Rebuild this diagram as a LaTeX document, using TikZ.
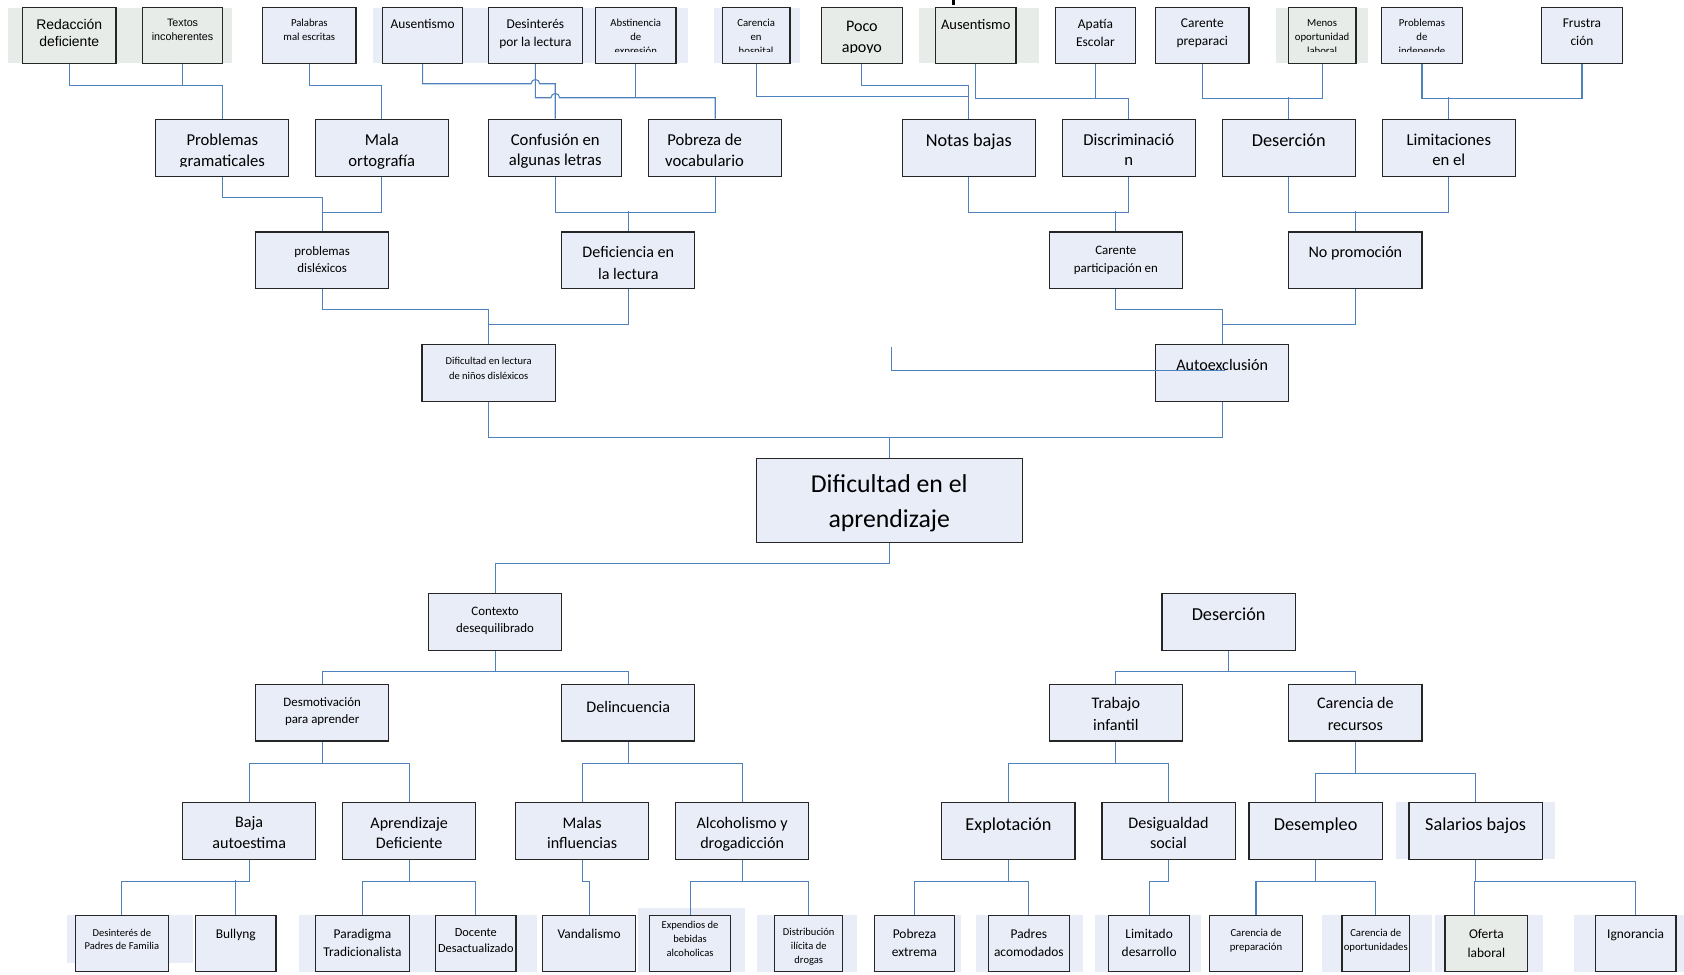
\documentclass[tikz,border=0pt]{standalone}
\usepackage{fontspec}
\setmainfont{Carlito}
\newfontfamily\arial{Liberation Sans}

\definecolor{azulcaja}{RGB}{233,237,247}
\definecolor{grisverde}{RGB}{231,236,233}
\definecolor{linea}{RGB}{79,129,189}
\definecolor{borde}{RGB}{38,38,38}

\def\letra{\fontsize{15}{19.5}\selectfont}
\def\margen{13pt}
\def\corre{0pt}
\def\recorte{2pt}
\def\familia{}
\def\contenido{}

\tikzset{
  letra/.code 2 args={\def\letra{\fontsize{#1}{#2}\selectfont}},
  sangria/.code={\def\margen{#1pt}},
  corrida/.code={\def\corre{#1pt}},
  recorte/.code={\def\recorte{#1pt}},
  arial/.code={\def\familia{\arial}},
  rotulo/.code={\def\contenido{#1}},
  caja/.style={draw=borde, line width=1.1pt, fill=azulcaja, inner sep=0pt,
    minimum width=124pt, minimum height=53pt,
    path picture={
      \clip ([yshift=\recorte]path picture bounding box.south west) rectangle (path picture bounding box.north east);
      \node[draw=none, fill=none, inner sep=0pt, minimum width=0pt, minimum height=0pt,
        align=center, anchor=north, text=black, font=\familia\letra]
        at ([xshift=\corre, yshift=-\margen]path picture bounding box.north) {\contenido};}},
  gris/.style={fill=grisverde},
  ancha/.style={minimum width=87pt, minimum height=52pt},
  chica/.style={minimum width=75pt, minimum height=52pt},
  angosta/.style={minimum width=63pt, minimum height=52pt},
  con/.style={draw=linea, line width=1pt}
}

\begin{document}
\begin{tikzpicture}[x=1pt, y=-1pt]
\useasboundingbox (0,0) rectangle (1568,907);

% fondos
\foreach \xa/\ya/\xb/\yb in {7/7/216/59, 856/7/967/59, 1188/7/1274/59} {\fill[grisverde] (\xa,\ya) rectangle (\xb,\yb);}
\foreach \xa/\ya/\xb/\yb in {347/7/641/59, 665/7/745/59, 1300/747/1448/800, 62/852/180/897, 278/852/500/905, 594/845/694/905, 705/852/798/905, 815/852/895/905, 909/852/1008/905, 1020/852/1118/905, 1231/852/1333/905, 1336/852/1437/905, 1466/852/1568/905} {\fill[azulcaja] (\xa,\ya) rectangle (\xb,\yb);}
\fill (886.5,0) rectangle (889.5,5);

% fila superior
\node[caja, gris, ancha, arial, letra={13}{16}, sangria=10, rotulo={Redacción\\deficiente}] (rd) at (64.5,33) {};
\node[caja, gris, chica, arial, letra={10}{12.5}, sangria=10.5, rotulo={Textos\\incoherentes}] (ti) at (170,33) {};
\node[caja, ancha, letra={10}{13}, sangria=10.5, rotulo={Palabras\\mal escritas}] (pe) at (288,33) {};
\node[caja, chica, letra={12.5}{17}, sangria=10, rotulo={Ausentismo}] (au1) at (393.5,33) {};
\node[caja, ancha, letra={12.5}{17}, sangria=10, rotulo={Desinterés\\por la lectura}] (dl) at (498.5,33) {};
\node[caja, chica, letra={10}{13}, sangria=10.5, recorte=11.5, rotulo={Abstinencia\\de\\expresión}] (ae) at (592,33) {};
\node[caja, angosta, letra={10}{13}, sangria=10.5, recorte=11.5, rotulo={Carencia\\en\\hospital}] (ch) at (704,33) {};
\node[caja, gris, chica, letra={15}{19.5}, sangria=12.5, recorte=10, rotulo={Poco\\apoyo}] (pa) at (802.5,33) {};
\node[caja, gris, chica, letra={13.5}{17}, sangria=10.5, rotulo={Ausentismo}] (au2) at (908.5,33) {};
\node[caja, chica, letra={12.5}{17}, sangria=10, rotulo={Apatía\\Escolar}] (ap) at (1020,33) {};
\node[caja, ancha, letra={12.5}{17}, sangria=10, rotulo={Carente\\preparaci}] (cp) at (1119.5,33) {};
\node[caja, gris, angosta, letra={10}{13}, sangria=10.5, recorte=11.5, rotulo={Menos\\oportunidad\\laboral}] (mo) at (1231,33) {};
\node[caja, chica, letra={10}{13}, sangria=10.5, recorte=11.5, rotulo={Problemas\\de\\independe}] (pi) at (1324,33) {};
\node[caja, chica, letra={12.5}{17}, sangria=10, rotulo={Frustra\\ción}] (fr) at (1473,33) {};

% fila 2
\node[caja, letra={15.5}{19.5}, sangria=12.8, recorte=9, rotulo={Problemas\\gramaticales}] (gram) at (207,137.5) {};
\node[caja, letra={15.5}{19.5}, sangria=12.8, rotulo={Mala\\ortografía}] (orto) at (355.5,137.5) {};
\node[caja, letra={15.5}{19.5}, sangria=12.8, rotulo={Confusión en\\algunas letras}] (conf) at (517,137.5) {};
\node[caja, letra={15.5}{19.5}, sangria=12.8, corrida=-10, rotulo={Pobreza de\\vocabulario}] (vocab) at (666,137.5) {};
\node[caja, letra={17}{20}, sangria=13.2, rotulo={Notas bajas}] (notas) at (902,137.5) {};
\node[caja, letra={15.5}{19.5}, sangria=12.8, rotulo={Discriminació\\n}] (discr) at (1051,137.5) {};
\node[caja, letra={17}{20}, sangria=13.2, rotulo={Deserción}] (deser) at (1200,137.5) {};
\node[caja, letra={15.5}{19.5}, sangria=12.8, rotulo={Limitaciones\\en el}] (limit) at (1349,137.5) {};

% fila 3
\node[caja, letra={12}{16}, sangria=13.2, rotulo={problemas\\disléxicos}] (disl) at (300,242.5) {};
\node[caja, letra={15}{20}, sangria=13, rotulo={Deficiencia en\\la lectura}] (defl) at (585,242.5) {};
\node[caja, letra={12}{17}, sangria=12.2, rotulo={Carente\\participación en}] (part) at (1039,242.5) {};
\node[caja, letra={15}{20}, sangria=13, rotulo={No promoción}] (promo) at (1262,242.5) {};

% fila 4
\node[caja, letra={9.8}{14}, sangria=11, rotulo={Dificultad en lectura\\de niños disléxicos}] (difl) at (455,347.5) {};
\node[caja, letra={15}{20}, sangria=13, rotulo={Autoexclusión}] (autoex) at (1138,347.5) {};

% centro
\node[caja, minimum width=248pt, minimum height=78pt, letra={24}{33}, sangria=14.4, rotulo={Dificultad en el\\aprendizaje}] (raiz) at (828,466) {};

% fila 5
\node[caja, letra={12}{16}, sangria=12.2, rotulo={Contexto\\desequilibrado}] (ctx) at (461,579) {};
\node[caja, letra={17}{20}, sangria=13.2, rotulo={Deserción}] (des2) at (1144,579) {};

% fila 6
\node[caja, letra={12}{16}, sangria=12.2, rotulo={Desmotivación\\para aprender}] (desm) at (300,663.5) {};
\node[caja, letra={15}{20}, sangria=15, rotulo={Delincuencia}] (delin) at (585,663.5) {};
\node[caja, letra={15}{20}, sangria=12, rotulo={Trabajo\\infantil}] (trab) at (1039,663.5) {};
\node[caja, letra={15}{20}, sangria=12, rotulo={Carencia de\\recursos}] (carrec) at (1262,663.5) {};

% fila 7
\node[caja, letra={15}{19.5}, sangria=13, rotulo={Baja\\autoestima}] (baja) at (232,773.5) {};
\node[caja, letra={15}{19.5}, sangria=13, rotulo={Aprendizaje\\Deficiente}] (aprd) at (381,773.5) {};
\node[caja, letra={15}{19.5}, sangria=13, rotulo={Malas\\influencias}] (malas) at (542,773.5) {};
\node[caja, letra={15}{19.5}, sangria=13, rotulo={Alcoholismo y\\drogadicción}] (alco) at (691,773.5) {};
\node[caja, letra={17}{20}, sangria=14.2, rotulo={Explotación}] (explo) at (939,773.5) {};
\node[caja, letra={15}{19.5}, sangria=13, rotulo={Desigualdad\\social}] (desig) at (1088,773.5) {};
\node[caja, letra={17}{20}, sangria=14.2, rotulo={Desempleo}] (desem) at (1225,773.5) {};
\node[caja, letra={17}{20}, sangria=14.2, rotulo={Salarios bajos}] (salar) at (1374,773.5) {};

% fila inferior
\node[caja, ancha, letra={9.8}{12.5}, sangria=12, rotulo={Desinterés de\\Padres de Familia}] (padres) at (113.5,878.5) {};
\node[caja, chica, letra={12.5}{17}, sangria=12, rotulo={Bullyng}] (bully) at (219.5,878.5) {};
\node[caja, ancha, letra={12.5}{17}, sangria=12, rotulo={Paradigma\\Tradicionalista}] (parad) at (337.5,878.5) {};
\node[caja, chica, letra={11.5}{15}, sangria=11.4, rotulo={Docente\\Desactualizado}] (docen) at (443,878.5) {};
\node[caja, ancha, letra={12.5}{17}, sangria=12, rotulo={Vandalismo}] (vanda) at (548.5,878.5) {};
\node[caja, chica, letra={9.8}{13}, sangria=5, rotulo={Expendios de\\bebidas\\alcoholicas}] (expen) at (642.5,878.5) {};
\node[caja, angosta, letra={9.8}{13}, sangria=11, rotulo={Distribución\\ilícita de\\drogas}] (distr) at (753,878.5) {};
\node[caja, chica, letra={12.5}{17}, sangria=12, rotulo={Pobreza\\extrema}] (pobre) at (851.5,878.5) {};
\node[caja, chica, letra={12.5}{17}, sangria=12, rotulo={Padres\\acomodados}] (acomo) at (958,878.5) {};
\node[caja, chica, letra={12.5}{17}, sangria=12, rotulo={Limitado\\desarrollo}] (limde) at (1070,878.5) {};
\node[caja, ancha, letra={10}{13}, sangria=12, rotulo={Carencia de\\preparación}] (cprep) at (1169.5,878.5) {};
\node[caja, angosta, letra={10}{13}, sangria=12, rotulo={Carencia de\\oportunidades}] (copor) at (1281,878.5) {};
\node[caja, gris, minimum width=77pt, minimum height=52pt, letra={12.5}{17}, sangria=12.5, rotulo={Oferta\\laboral}] (ofert) at (1384,878.5) {};
\node[caja, chica, letra={12.5}{17}, sangria=12, rotulo={Ignorancia}] (ignor) at (1523,878.5) {};

% conectores de arriba
\draw[con] (rd.south) -- ++(0,20) -| (gram.north);
\draw[con] (ti.south) -- ++(0,20);
\draw[con] (pe.south) -- ++(0,20) -| (orto.north);
\draw[con] (au1.south) |- ([xshift=-4pt]dl.south |- 0,78) arc[start angle=180, end angle=0, radius=4pt] -| (conf.north);
\draw[con] (dl.south) |- ([xshift=-4pt]conf.north |- 0,91) arc[start angle=180, end angle=0, radius=4pt] -| (vocab.north);
\draw[con] (ae.south) -- ++(0,32);
\draw[con] (pa.south) -- ++(0,20) -| (notas.north);
\draw[con] (ch.south) |- (notas.north |- 0,90);
\draw[con] (au2.south) -- ++(0,32) -| (discr.north);
\draw[con] (ap.south) -- ++(0,32);
\draw[con] (cp.south) -- ++(0,32) -| (mo.south);
\draw[con] (deser.north) -- ++(0,-20);
\draw[con] (pi.south) -- ++(0,32) -| (fr.south);
\draw[con] (limit.north) -- ++(0,-20);

\draw[con] (gram.south) -- ++(0,19) -| (disl.north);
\draw[con] (orto.south) -- ++(0,33) -| (disl.north);
\foreach \a/\b/\c in {conf/vocab/defl, notas/discr/part, deser/limit/promo} {
  \draw[con] (\a.south) -- ++(0,33) -| (\b.south);
  \draw[con] (\c.north) -- ++(0,-19);
}
\draw[con] (disl.south) -- ++(0,19) -| (difl.north);
\draw[con] (defl.south) -- ++(0,33) -| (difl.north);
\draw[con] (part.south) -- ++(0,19) -| (autoex.north);
\draw[con] (promo.south) -- ++(0,33) -| (autoex.north);
\draw[con] (difl.south) -- ++(0,33) -| (raiz.north);
\draw[con] (autoex.south) -- ++(0,33) -| (raiz.north);

% conectores de abajo
\draw[con] (raiz.south) -- ++(0,19) -| (ctx.north);
\foreach \p/\a/\b in {ctx/desm/delin, des2/trab/carrec} {
  \draw[con] (\p.south) -- ++(0,19) -| (\a.north);
  \draw[con] (\p.south) -- ++(0,19) -| (\b.north);
}
\foreach \p/\a/\b/\d in {desm/baja/aprd/20, delin/malas/alco/20, trab/explo/desig/20, carrec/desem/salar/30} {
  \draw[con] (\p.south) -- ++(0,\d) -| (\a.north);
  \draw[con] (\p.south) -- ++(0,\d) -| (\b.north);
}
\draw[con] (baja.south) -- ++(0,20) -| (padres.north);
\draw[con] (bully.north) -- ++(0,-32.5);
\foreach \p/\a/\b in {aprd/parad/docen, alco/expen/distr, explo/pobre/acomo, desem/cprep/copor} {
  \draw[con] (\p.south) -- ++(0,20) -| (\a.north);
  \draw[con] (\p.south) -- ++(0,20) -| (\b.north);
}
\draw[con] (malas.south) -- ++(0,20) -| (vanda.north);
\draw[con] (desig.south) -- ++(0,20) -| (limde.north);
\draw[con] (salar.south) -- ++(0,20) -| ([xshift=-11pt]ofert.north);
\draw[con] (salar.south) -- ++(0,20) -| (ignor.north);

% trazo suelto
\coordinate (suelto) at (830,323);
\draw[con] (suelto) |- ([xshift=3pt, yshift=2.5pt]autoex.center);

\end{tikzpicture}
\end{document}
